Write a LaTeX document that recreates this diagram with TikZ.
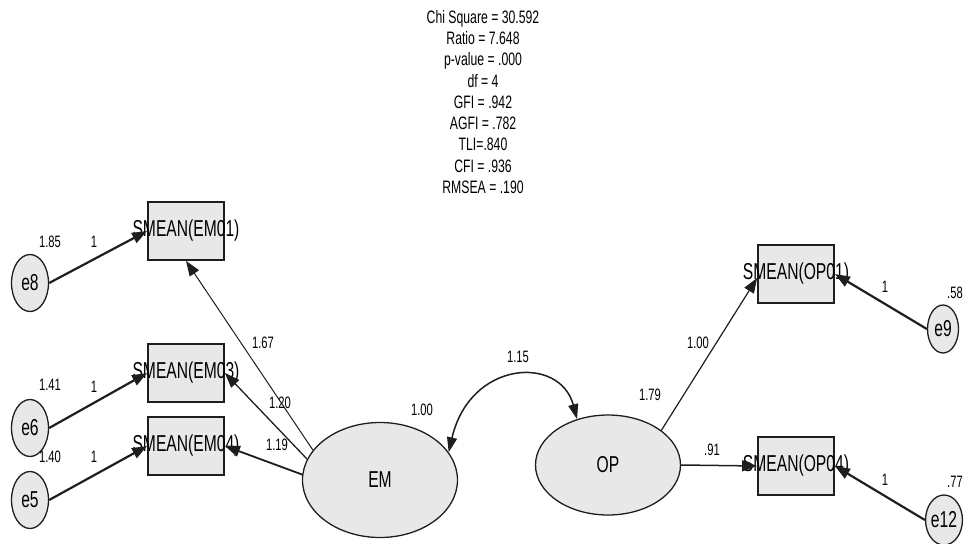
\documentclass[tikz,border=0pt]{standalone}
\usepackage{fontspec}
\setmainfont[FakeStretch=0.68]{Liberation Sans}
\usetikzlibrary{arrows.meta,shapes.geometric}
\definecolor{semfill}{RGB}{232,232,232}
\definecolor{semline}{RGB}{30,30,30}
\tikzset{
  obsbox/.style={draw=semline, line width=1.8pt, fill=semfill, minimum width=76pt, minimum height=58pt, inner sep=0pt},
  boxtext/.style={font=\fontsize{23}{26}\selectfont, inner sep=0pt},
  latent/.style={ellipse, draw=semline, line width=1.3pt, fill=semfill, inner sep=0pt, font=\fontsize{23}{26}\selectfont},
  coef/.style={font=\fontsize{16.5}{19}\selectfont, inner sep=0pt},
  loading/.style={-{Triangle[length=15pt,width=11pt]}, draw=semline},
}

\begin{document}
\begin{tikzpicture}[x=1pt, y=-1pt]
\useasboundingbox (0,0) rectangle (968,543);
% fit indices
\node[font=\fontsize{18}{21.25}\selectfont, align=center, inner sep=0pt] (fitidx) at (483,102)
  {Chi Square = 30.592\\ Ratio = 7.648\\ p-value = .000\\ df = 4\\ GFI = .942\\ AGFI = .782\\ TLI=.840\\ CFI = .936\\ RMSEA = .190};
% observed variables
\foreach \n/\x/\y/\t in {em01/186/231/EM01, em03/186/373/EM03, em04/186/446/EM04, op01/796/274/OP01, op04/796/466/OP04} {
  \node[obsbox] (\n) at (\x,\y) {};
  \node[boxtext] at (\n) {SMEAN(\t)};
}
% latent variables and errors
\node[latent, minimum width=155pt, minimum height=115pt] (em) at (380,480) {EM};
\node[latent, minimum width=145pt, minimum height=100pt] (op) at (608,465) {OP};
\foreach \n/\x/\y/\w/\h in {e8/30/283/37/57, e6/30/428/37/57, e5/30/500/37/57, e9/943/329/31/48, e12/944/520/34/50} {
  \node[latent, minimum width=\w pt, minimum height=\h pt] (\n) at (\x,\y) {\n};
}
% error paths
\draw[loading, line width=2.2pt] (e8.east) -- (em01.west);
\draw[loading, line width=2.2pt] (e6.east) -- (em03.west);
\draw[loading, line width=2.2pt] (e5.east) -- (em04.west);
\draw[loading, line width=2.2pt] (e9.west) -- (op01.east);
\draw[loading, line width=2.2pt] (e12.west) -- (op04.east);
% loadings
\draw[loading, line width=1pt] (em.156) -- (em01.south);
\draw[loading, line width=1.3pt] (em.164) -- (em03.east);
\draw[loading, line width=1.8pt] (em.176) -- (em04.east);
\draw[loading, line width=1.2pt] (op.33) -- ([yshift=-4pt]op01.west);
\draw[loading, line width=1.5pt] (op.east) -- (op04.west);
% covariance
\draw[{Triangle[length=15pt,width=10pt]}-{Triangle[length=15pt,width=10pt]}, draw=semline, line width=1.5pt]
  (em.22) .. controls (470,360) and (560,355) .. (op.124);
% estimates
\foreach \x/\y/\v in {50/242/1.85, 94/242/1, 50/385/1.41, 94/387/1, 50/457/1.40, 94/457/1,
  263/343/1.67, 280/403/1.20, 277/445/1.19, 422/410/1.00, 518/357/1.15, 650/395/1.79,
  698/343/1.00, 712/450/.91, 885/287/1, 955/293/.58, 885/480/1, 955/482/.77} {
  \node[coef] at (\x,\y) {\v};
}
\end{tikzpicture}
\end{document}
